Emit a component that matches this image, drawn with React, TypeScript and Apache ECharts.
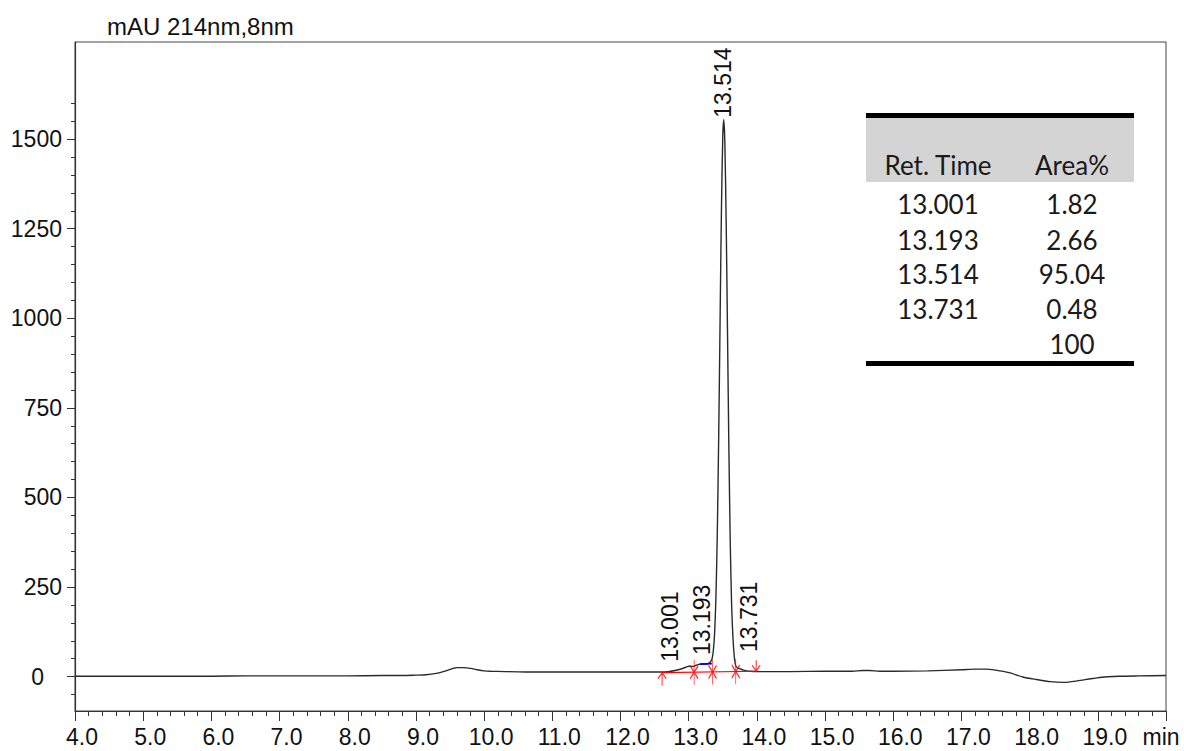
import React, { useEffect, useRef } from "react";
import * as echarts from "echarts";

// ---- data ----
const times = [
  4.0, 4.5, 5.0, 5.5, 6.0, 6.5, 7.0, 7.5, 8.0, 8.5, 8.8, 9.0, 9.15, 9.3, 9.4, 9.5, 9.55, 9.6, 9.7, 9.8,
  9.9, 10.0, 10.1, 10.3, 10.6, 11.0, 11.5, 12.0, 12.4, 12.6, 12.7, 12.8, 12.9, 12.97, 13.0, 13.03, 13.07,
  13.1, 13.15, 13.2, 13.25, 13.3, 13.34, 13.36, 13.38, 13.4, 13.42, 13.44, 13.46, 13.48, 13.5, 13.514,
  13.53, 13.55, 13.57, 13.59, 13.61, 13.63, 13.65, 13.67, 13.69, 13.72, 13.75, 13.8, 13.85, 13.9, 14.0,
  14.5, 15.0, 15.4, 15.55, 15.65, 15.8, 16.0, 16.5, 17.0, 17.2, 17.35, 17.5, 17.7, 17.9, 18.1, 18.3, 18.5,
  18.7, 18.9, 19.1, 19.3, 19.6, 20.0,
];
const signal = [
  1, 1, 1, 1, 1, 2, 2, 2, 2, 3, 3, 4, 5, 9, 14, 20, 23, 25, 25, 23,
  19, 16, 15, 14, 13, 13, 13, 13, 13, 13, 14, 17, 22, 27, 29, 29, 28,
  31, 34, 35, 35, 38, 48, 70, 121, 224, 404, 668, 987, 1299, 1508, 1554,
  1493, 1267, 949, 629, 371, 198, 105, 54, 30, 24, 22, 18, 16, 15, 14,
  14, 15, 15, 17, 17, 15, 15, 16, 19, 21, 21, 18, 11, -1, -8, -14, -16,
  -12, -6, -1, 1, 2, 3,
];

const peakTimes = [13.001, 13.193, 13.514, 13.731];
const peakHeights = [30, 35, 1554, 24];
const peakLabels = ["13.001", "13.193", "13.514", "13.731"];
const areaPct = ["1.82", "2.66", "95.04", "0.48"];
const areaTotal = "100";
const tableHeaders = ["Ret. Time", "Area%"];

const baselineTimes = [12.61, 13.99];
const baselineValues = [11, 15];
const blueTimes = [13.16, 13.34];
const blueValues = [35, 36];
const markerTimes = [12.61, 13.08, 13.35, 13.69, 13.99];
const markerValues = [11, 12, 13, 14, 15];
const markerKinds = ["up", "both", "both", "both", "down"];

const yMajorTicks = [0, 250, 500, 750, 1000, 1250, 1500];
const yMinorTicks: number[] = [];
for (let v = -50; v <= 1600; v += 50) if (v % 250 !== 0) yMinorTicks.push(v);

const titleText = "mAU 214nm,8nm";

// ---- styling (pixel offsets for peak labels) ----
const labelDx = [-19, 0, -1, 10];
const labelGap = [4, 9, 2, 16];

const axisFont = '"Liberation Sans", Arial, sans-serif';
const tableFont = 'Lato, "Open Sans", sans-serif';

const SYM: Record<string, { path: string; size: number[]; offset: number[] }> = {
  up: { path: "path://M4 0 L4 13 M0 6 L4 0 L8 6", size: [8, 13], offset: [0, 6.5] },
  down: { path: "path://M4 0 L4 11 M0 5 L4 11 L8 5", size: [8, 11], offset: [0, -5.5] },
  both: {
    path: "path://M4 0 L4 25 M0 6 L4 12.5 L8 6 M0 19 L4 12.5 L8 19",
    size: [8, 25],
    offset: [0, 0],
  },
};

export default function App() {
  const ref = useRef<HTMLDivElement>(null);

  useEffect(() => {
    document.body.style.margin = "0";
    if (!ref.current) return;
    const chart = echarts.init(ref.current, null, { renderer: "svg" });

    const axisColor = "#333";
    const option: any = {
      animation: false,
      backgroundColor: "#ffffff",
      grid: {
        left: 75,
        right: 18,
        top: 42,
        bottom: 40,
        show: true,
        borderColor: "#444",
        borderWidth: 1,
        backgroundColor: "transparent",
      },
      xAxis: [
        {
          type: "value",
          min: 4,
          max: 20,
          interval: 1,
          axisLine: { show: true, onZero: false, lineStyle: { color: axisColor, width: 1.2 } },
          axisTick: { show: true, length: 10, lineStyle: { color: axisColor } },
          minorTick: { show: true, splitNumber: 5, length: 5, lineStyle: { color: axisColor } },
          splitLine: { show: false },
          minorSplitLine: { show: false },
          axisLabel: {
            fontFamily: axisFont,
            fontSize: 23,
            color: "#111",
            margin: 14,
            padding: [0, 0, 0, 14],
            formatter: (v: number) => (v === 20 ? "{m|min}" : v.toFixed(1)),
            rich: {
              m: { fontFamily: axisFont, fontSize: 23, color: "#111", padding: [0, 24, 0, 0] },
            },
          },
        },
      ],
      yAxis: [
        {
          type: "value",
          min: -96,
          max: 1771,
          axisLine: { show: true, onZero: false, lineStyle: { color: axisColor, width: 1.2 } },
          axisTick: { show: true, length: 8, customValues: yMajorTicks, lineStyle: { color: axisColor } },
          splitLine: { show: false },
          axisLabel: {
            customValues: yMajorTicks,
            fontFamily: axisFont,
            fontSize: 23,
            color: "#111",
            margin: 13,
            formatter: (v: number) => (v === 0 ? "{z|0}" : String(v)),
            rich: {
              z: { fontFamily: axisFont, fontSize: 23, color: "#111", padding: [0, 18, 0, 0] },
            },
          },
        },
        {
          type: "value",
          min: -96,
          max: 1771,
          position: "left",
          axisLine: { show: false, onZero: false },
          axisTick: { show: true, length: 4, customValues: yMinorTicks, lineStyle: { color: axisColor } },
          axisLabel: { show: false },
          splitLine: { show: false },
        },
      ],
      series: [
        {
          type: "line",
          data: times.map((t, i) => [t, signal[i]]),
          showSymbol: false,
          smooth: 0.25,
          lineStyle: { color: "#2a2a2a", width: 1.4 },
          xAxisIndex: 0,
          yAxisIndex: 0,
          z: 3,
        },
        {
          type: "line",
          data: baselineTimes.map((t, i) => [t, baselineValues[i]]),
          showSymbol: false,
          lineStyle: { color: "#ff0000", width: 1.2 },
          z: 4,
        },
        {
          type: "line",
          data: blueTimes.map((t, i) => [t, blueValues[i]]),
          showSymbol: false,
          lineStyle: { color: "#0000ff", width: 1.8 },
          z: 4,
        },
        {
          type: "scatter",
          data: markerTimes.map((t, i) => {
            const s = SYM[markerKinds[i]];
            return {
              value: [t, markerValues[i]],
              symbol: s.path,
              symbolSize: s.size,
              symbolOffset: s.offset,
            };
          }),
          itemStyle: { color: "transparent", borderColor: "#ff0000", borderWidth: 1.3 },
          z: 5,
        },
      ],
    };
    chart.setOption(option);

    const graphics: any[] = [];
    graphics.push({
      type: "text",
      x: 107,
      y: 26,
      style: {
        text: titleText,
        fontFamily: axisFont,
        fontSize: 24,
        fill: "#111",
        align: "left",
        textAlign: "left",
        verticalAlign: "middle",
        textVerticalAlign: "middle",
      },
    });

    peakTimes.forEach((t, i) => {
      const p = chart.convertToPixel({ seriesIndex: 0 }, [t, peakHeights[i]]) as number[];
      graphics.push({
        type: "text",
        x: p[0] + labelDx[i],
        y: p[1] - labelGap[i],
        rotation: Math.PI / 2,
        style: {
          text: peakLabels[i],
          fontFamily: axisFont,
          fontSize: 23,
          fill: "#111",
          align: "left",
          textAlign: "left",
          verticalAlign: "middle",
          textVerticalAlign: "middle",
        },
        z: 10,
      });
    });

    // results table
    const tLeft = 866;
    const tWidth = 268;
    const col1 = 938;
    const col2 = 1072;
    graphics.push({ type: "rect", shape: { x: tLeft, y: 118, width: tWidth, height: 64 }, style: { fill: "#d4d4d4" } });
    graphics.push({ type: "rect", shape: { x: tLeft, y: 113, width: tWidth, height: 5 }, style: { fill: "#000" } });
    graphics.push({ type: "rect", shape: { x: tLeft, y: 361, width: tWidth, height: 5 }, style: { fill: "#000" } });
    const tText = (text: string, x: number, y: number) => ({
      type: "text",
      x,
      y,
      style: {
        text,
        fontFamily: tableFont,
        fontSize: 26,
        fill: "#1a1a1a",
        align: "center",
        textAlign: "center",
        verticalAlign: "middle",
        textVerticalAlign: "middle",
      },
    });
    graphics.push(tText(tableHeaders[0], col1, 165));
    graphics.push(tText(tableHeaders[1], col2, 165));
    const rowY = [204, 240, 274, 309];
    peakLabels.forEach((lbl, i) => {
      graphics.push(tText(lbl, col1, rowY[i]));
      graphics.push(tText(areaPct[i], col2, rowY[i]));
    });
    graphics.push(tText(areaTotal, col2, 344));

    chart.setOption({ graphic: graphics });

    return () => {
      chart.dispose();
    };
  }, []);

  return <div ref={ref} style={{ width: 1184, height: 751 }} />;
}
